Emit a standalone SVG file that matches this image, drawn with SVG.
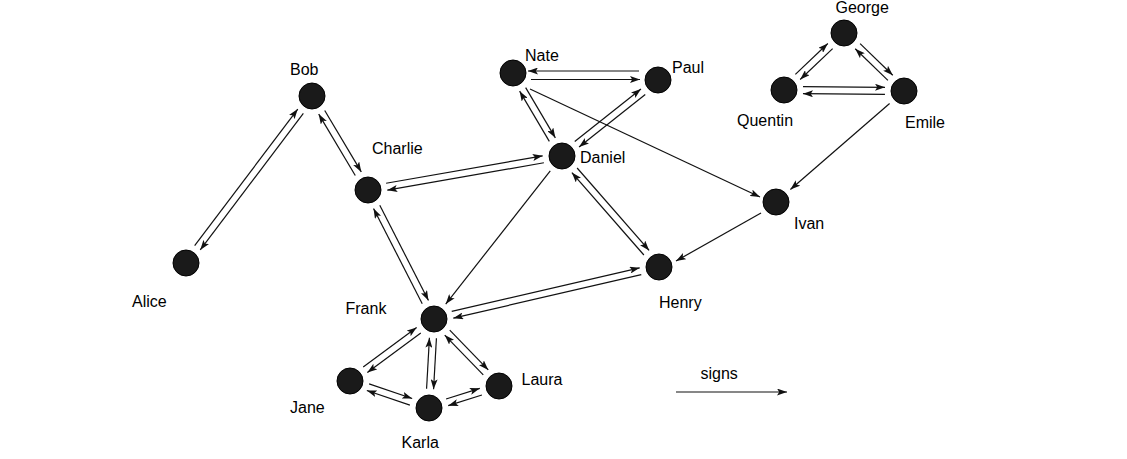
<svg xmlns="http://www.w3.org/2000/svg" width="1127" height="459" viewBox="0 0 1127 459">
<style>
.e{stroke:#111;stroke-width:1.2;fill:none;marker-end:url(#ah)}
.n{fill:#1a1a1a;stroke:#000;stroke-width:1}
text{font-family:"Liberation Sans",Arial,sans-serif;font-size:16px;fill:#000}
</style>
<defs>
<marker id="ah" viewBox="0 0 10 7" refX="10" refY="3.5" markerWidth="10" markerHeight="7" markerUnits="userSpaceOnUse" orient="auto">
<path d="M0,0 L10,3.5 L0,7 L2.2,3.5 z" fill="#111"/>
</marker>
</defs>
<rect width="1127" height="459" fill="#fff"/>
<g id="connectors">
<line class="e" x1="194.65" y1="245.72" x2="297.77" y2="109.06"/>
<line class="e" x1="303.35" y1="113.28" x2="200.23" y2="249.94"/>
<line class="e" x1="324.73" y1="110.53" x2="361.29" y2="171.89"/>
<line class="e" x1="355.27" y1="175.47" x2="318.71" y2="114.11"/>
<line class="e" x1="386.11" y1="183.27" x2="542.69" y2="155.83"/>
<line class="e" x1="543.89" y1="162.73" x2="387.31" y2="190.17"/>
<line class="e" x1="379.77" y1="205.33" x2="428.47" y2="300.49"/>
<line class="e" x1="422.23" y1="303.67" x2="373.53" y2="208.51"/>
<line class="e" x1="531" y1="79.5" x2="640" y2="79.5"/>
<line class="e" x1="639" y1="71" x2="528" y2="71"/>
<line class="e" x1="525.67" y1="87.58" x2="555.35" y2="137.86"/>
<line class="e" x1="549.33" y1="141.42" x2="519.65" y2="91.14"/>
<line class="e" x1="574.73" y1="141.47" x2="640.93" y2="89.05"/>
<line class="e" x1="645.27" y1="94.53" x2="579.07" y2="146.95"/>
<line class="e" x1="577.14" y1="168.01" x2="649.14" y2="250.39"/>
<line class="e" x1="643.86" y1="254.99" x2="571.86" y2="172.61"/>
<line class="e" x1="451.72" y1="311.31" x2="639.70" y2="267.87"/>
<line class="e" x1="641.28" y1="274.69" x2="453.30" y2="318.13"/>
<line class="e" x1="795.37" y1="74.37" x2="827.81" y2="43.55"/>
<line class="e" x1="832.63" y1="48.63" x2="800.19" y2="79.45"/>
<line class="e" x1="860.09" y1="43.69" x2="892.77" y2="75.27"/>
<line class="e" x1="887.91" y1="80.31" x2="855.23" y2="48.73"/>
<line class="e" x1="803.03" y1="86.66" x2="885.03" y2="87.34"/>
<line class="e" x1="884.97" y1="94.34" x2="802.97" y2="93.66"/>
<line class="e" x1="363.21" y1="366.90" x2="416.63" y2="327.46"/>
<line class="e" x1="420.79" y1="333.10" x2="367.37" y2="372.54"/>
<line class="e" x1="436.42" y1="338.17" x2="433.56" y2="389.23"/>
<line class="e" x1="426.58" y1="388.83" x2="429.44" y2="337.77"/>
<line class="e" x1="449.74" y1="330.20" x2="488.28" y2="369.92"/>
<line class="e" x1="483.26" y1="374.80" x2="444.72" y2="335.08"/>
<line class="e" x1="369.11" y1="383.83" x2="412.15" y2="398.55"/>
<line class="e" x1="409.89" y1="405.17" x2="366.85" y2="390.45"/>
<line class="e" x1="446.08" y1="398.96" x2="479.82" y2="388.36"/>
<line class="e" x1="481.92" y1="395.04" x2="448.18" y2="405.64"/>
<line class="e" x1="530" y1="89" x2="760" y2="197"/>
<line class="e" x1="550.26" y1="170.93" x2="445.74" y2="304.07"/>
<line class="e" x1="889.6" y1="103.5" x2="790.4" y2="189.5"/>
<line class="e" x1="761" y1="213" x2="676" y2="261"/>
<line class="e" x1="676" y1="392" x2="787" y2="392"/>
</g>
<g id="Alice"><circle class="n" cx="186" cy="263" r="13"/><text x="132" y="307">Alice</text></g>
<g id="Bob"><circle class="n" cx="312" cy="96" r="13"/><text x="290" y="75">Bob</text></g>
<g id="Charlie"><circle class="n" cx="368" cy="190" r="13"/><text x="372" y="154">Charlie</text></g>
<g id="Daniel"><circle class="n" cx="562" cy="156" r="13"/><text x="580" y="162.5">Daniel</text></g>
<g id="Nate"><circle class="n" cx="513" cy="73" r="13"/><text x="525" y="60.5">Nate</text></g>
<g id="Paul"><circle class="n" cx="658" cy="80" r="13"/><text x="672" y="73">Paul</text></g>
<g id="George"><circle class="n" cx="844" cy="33" r="13"/><text x="835.5" y="13">George</text></g>
<g id="Quentin"><circle class="n" cx="784" cy="90" r="13"/><text x="737" y="126">Quentin</text></g>
<g id="Emile"><circle class="n" cx="904" cy="91" r="13"/><text x="905" y="127.5">Emile</text></g>
<g id="Ivan"><circle class="n" cx="776" cy="202" r="13"/><text x="794" y="229">Ivan</text></g>
<g id="Henry"><circle class="n" cx="659" cy="267" r="13"/><text x="659" y="307.5">Henry</text></g>
<g id="Frank"><circle class="n" cx="434" cy="319" r="13"/><text x="345.5" y="314">Frank</text></g>
<g id="Jane"><circle class="n" cx="350" cy="381" r="13"/><text x="290" y="413">Jane</text></g>
<g id="Karla"><circle class="n" cx="429" cy="408" r="13"/><text x="401.5" y="448">Karla</text></g>
<g id="Laura"><circle class="n" cx="499" cy="386" r="13"/><text x="521.5" y="385">Laura</text></g>
<g id="legend"><text x="700.5" y="379">signs</text></g>
</svg>
